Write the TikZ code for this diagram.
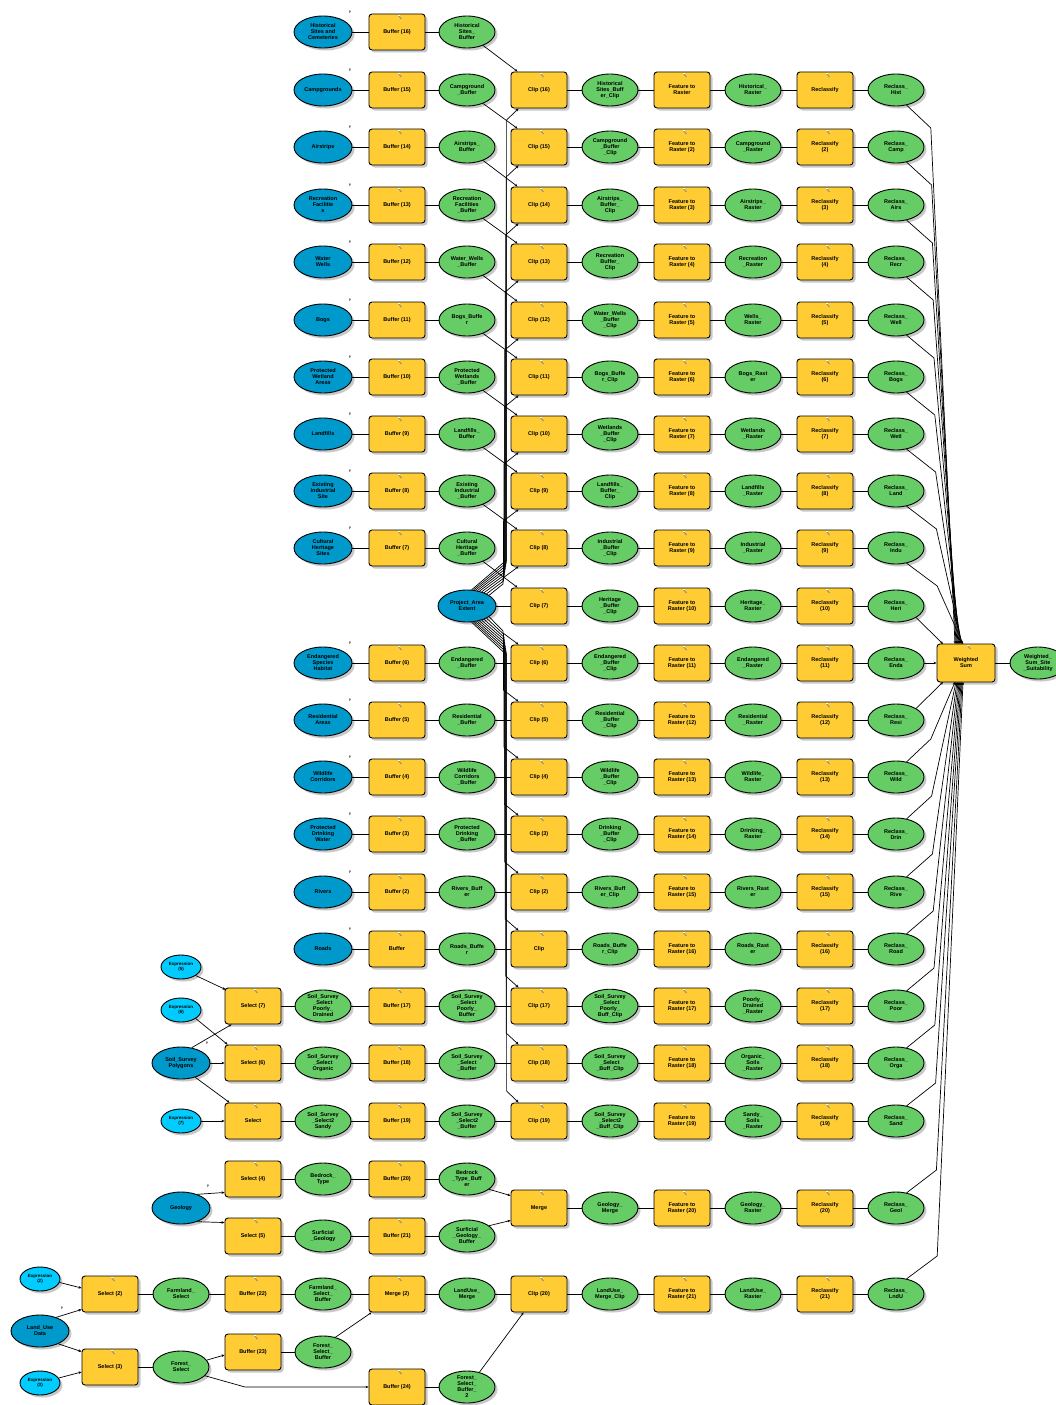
\documentclass[tikz,border=0pt]{standalone}
\usepackage{fontspec}
\setmainfont{Liberation Sans}
\usetikzlibrary{shapes.geometric,shadows,arrows.meta,calc}
\definecolor{inblue}{RGB}{0,153,204}
\definecolor{parblue}{RGB}{0,204,255}
\definecolor{toolyel}{RGB}{255,204,51}
\definecolor{datgreen}{RGB}{102,204,102}
\tikzset{
  base/.style={draw=black, line width=0.9pt, font=\fontsize{5.5}{6}\selectfont\bfseries, align=center, inner sep=0.3pt,
    drop shadow={shadow xshift=2.5pt, shadow yshift=-2.5pt, fill=black!30, opacity=0.7}},
  inp/.style={base, ellipse, fill=inblue, minimum width=58pt, minimum height=32pt},
  par/.style={base, ellipse, fill=parblue, minimum width=40pt, minimum height=24pt, font=\fontsize{4.5}{5}\selectfont\bfseries},
  tool/.style={base, rectangle, rounded corners=3pt, fill=toolyel, minimum width=56pt, minimum height=36pt,
    path picture={\draw[black!45, line width=0.9pt] ([xshift=1pt,yshift=-1pt]path picture bounding box.north) -- ++(3.5pt,-4pt);
                  \draw[white, line width=0.5pt] ([xshift=0.5pt,yshift=-1.5pt]path picture bounding box.north) -- ++(2pt,0);}},
  dat/.style={base, ellipse, fill=datgreen, minimum width=56pt, minimum height=32pt},
  conn/.style={line width=0.7pt},
  arr/.style={conn, -{Stealth[length=3pt,width=2.6pt]}},
  pmark/.style={font=\fontsize{3.5}{4}\selectfont\bfseries, text=black!75, inner sep=0pt},
}
\newcommand\toprow[5]{%
  \node[inp] (b#1) at (323,#2) {#3};
  \node[tool] (u#1) at (397,#2) {#4};
  \node[dat] (g#1) at (467,#2) {#5};
  \node[pmark] at (350,#2-20) {P};
  \draw[conn] (b#1) -- (u#1) -- (g#1);
}
\newcommand\chain[8]{%
  \node[tool] (c#1) at (539,#2) {#3};
  \node[dat] (k#1) at (610,#2) {#4};
  \node[tool] (f#1) at (682,#2) {#5};
  \node[dat] (r#1) at (753,#2) {#6};
  \node[tool] (q#1) at (825,#2) {#7};
  \node[dat] (o#1) at (896,#2) {#8};
  \draw[conn] (c#1) -- (k#1) -- (f#1) -- (r#1) -- (q#1) -- (o#1);
}
\begin{document}
\begin{tikzpicture}[x=1pt,y=-1pt]
\fill[white] (0,0) rectangle (1055,1405);
\useasboundingbox (0,0) rectangle (1055,1405);

% ---------- top input rows ----------
\toprow{0}{32}{Historical\\Sites and\\Cemeteries}{Buffer (16)}{Historical\\Sites\_\\Buffer}
\toprow{1}{90}{Campgrounds}{Buffer (15)}{Campground\\\_Buffer}
\toprow{2}{147}{Airstrips}{Buffer (14)}{Airstrips\_\\Buffer}
\toprow{3}{205}{Recreation\\Facilitie\\s}{Buffer (13)}{Recreation\\Facilities\\\_Buffer}
\toprow{4}{262}{Water\\Wells}{Buffer (12)}{Water\_Wells\\\_Buffer}
\toprow{5}{320}{Bogs}{Buffer (11)}{Bogs\_Buffe\\r}
\toprow{6}{377}{Protected\\Wetland\\Areas}{Buffer (10)}{Protected\\Wetlands\\\_Buffer}
\toprow{7}{434}{Landfills}{Buffer (9)}{Landfills\_\\Buffer}
\toprow{8}{491}{Existing\\Industrial\\Site}{Buffer (8)}{Existing\\Industrial\\\_Buffer}
\toprow{9}{548}{Cultural\\Heritage\\Sites}{Buffer (7)}{Cultural\\Heritage\\\_Buffer}
\toprow{11}{663}{Endangered\\Species\\Habitat}{Buffer (6)}{Endangered\\\_Buffer}
\toprow{12}{720}{Residential\\Areas}{Buffer (5)}{Residential\\\_Buffer}
\toprow{13}{777}{Wildlife\\Corridors}{Buffer (4)}{Wildlife\\Corridors\\\_Buffer}
\toprow{14}{834}{Protected\\Drinking\\Water}{Buffer (3)}{Protected\\Drinking\\\_Buffer}
\toprow{15}{892}{Rivers}{Buffer (2)}{Rivers\_Buff\\er}
\toprow{16}{949}{Roads}{Buffer}{Roads\_Buffe\\r}

% ---------- clip features ----------
\node[inp] (cf) at (467,606) {Project\_Area\\Extent};

% ---------- processing chains ----------
\chain{1}{90}{Clip (16)}{Historical\\Sites\_Buff\\er\_Clip}{Feature to\\Raster}{Historical\_\\Raster}{Reclassify}{Reclass\_\\Hist}
\chain{2}{147}{Clip (15)}{Campground\\\_Buffer\\\_Clip}{Feature to\\Raster (2)}{Campground\\\_Raster}{Reclassify\\(2)}{Reclass\_\\Camp}
\chain{3}{205}{Clip (14)}{Airstrips\_\\Buffer\_\\Clip}{Feature to\\Raster (3)}{Airstrips\_\\Raster}{Reclassify\\(3)}{Reclass\_\\Airs}
\chain{4}{262}{Clip (13)}{Recreation\\Buffer\_\\Clip}{Feature to\\Raster (4)}{Recreation\\\_Raster}{Reclassify\\(4)}{Reclass\_\\Recr}
\chain{5}{320}{Clip (12)}{Water\_Wells\\\_Buffer\\\_Clip}{Feature to\\Raster (5)}{Wells\_\\Raster}{Reclassify\\(5)}{Reclass\_\\Well}
\chain{6}{377}{Clip (11)}{Bogs\_Buffe\\r\_Clip}{Feature to\\Raster (6)}{Bogs\_Rast\\er}{Reclassify\\(6)}{Reclass\_\\Bogs}
\chain{7}{434}{Clip (10)}{Wetlands\\\_Buffer\\\_Clip}{Feature to\\Raster (7)}{Wetlands\\\_Raster}{Reclassify\\(7)}{Reclass\_\\Wetl}
\chain{8}{491}{Clip (9)}{Landfills\_\\Buffer\_\\Clip}{Feature to\\Raster (8)}{Landfills\\\_Raster}{Reclassify\\(8)}{Reclass\_\\Land}
\chain{9}{548}{Clip (8)}{Industrial\\\_Buffer\\\_Clip}{Feature to\\Raster (9)}{Industrial\\\_Raster}{Reclassify\\(9)}{Reclass\_\\Indu}
\chain{10}{606}{Clip (7)}{Heritage\\\_Buffer\\\_Clip}{Feature to\\Raster (10)}{Heritage\_\\Raster}{Reclassify\\(10)}{Reclass\_\\Heri}
\chain{11}{663}{Clip (6)}{Endangered\\\_Buffer\\\_Clip}{Feature to\\Raster (11)}{Endangered\\\_Raster}{Reclassify\\(11)}{Reclass\_\\Enda}
\chain{12}{720}{Clip (5)}{Residential\\\_Buffer\\\_Clip}{Feature to\\Raster (12)}{Residential\\\_Raster}{Reclassify\\(12)}{Reclass\_\\Resi}
\chain{13}{777}{Clip (4)}{Wildlife\\\_Buffer\\\_Clip}{Feature to\\Raster (13)}{Wildlife\_\\Raster}{Reclassify\\(13)}{Reclass\_\\Wild}
\chain{14}{834}{Clip (3)}{Drinking\\\_Buffer\\\_Clip}{Feature to\\Raster (14)}{Drinking\_\\Raster}{Reclassify\\(14)}{Reclass\_\\Drin}
\chain{15}{892}{Clip (2)}{Rivers\_Buff\\er\_Clip}{Feature to\\Raster (15)}{Rivers\_Rast\\er}{Reclassify\\(15)}{Reclass\_\\Rive}
\chain{16}{949}{Clip}{Roads\_Buffe\\r\_Clip}{Feature to\\Raster (16)}{Roads\_Rast\\er}{Reclassify\\(16)}{Reclass\_\\Road}
\chain{17}{1006}{Clip (17)}{Soil\_Survey\\\_Select\\Poorly\_\\Buff\_Clip}{Feature to\\Raster (17)}{Poorly\_\\Drained\\\_Raster}{Reclassify\\(17)}{Reclass\_\\Poor}
\chain{18}{1063}{Clip (18)}{Soil\_Survey\\\_Select\\\_Buff\_Clip}{Feature to\\Raster (18)}{Organic\_\\Soils\\\_Raster}{Reclassify\\(18)}{Reclass\_\\Orga}
\chain{19}{1121}{Clip (19)}{Soil\_Survey\\\_Select2\\\_Buff\_Clip}{Feature to\\Raster (19)}{Sandy\_\\Soils\\\_Raster}{Reclassify\\(19)}{Reclass\_\\Sand}
\chain{20}{1208}{Merge}{Geology\_\\Merge}{Feature to\\Raster (20)}{Geology\_\\Raster}{Reclassify\\(20)}{Reclass\_\\Geol}
\chain{21}{1294}{Clip (20)}{LandUse\_\\Merge\_Clip}{Feature to\\Raster (21)}{LandUse\_\\Raster}{Reclassify\\(21)}{Reclass\_\\LndU}

% ---------- weighted sum ----------
\node[tool, minimum width=58pt, minimum height=38pt] (ws) at (966,663) {Weighted\\Sum};
\node[dat] (wso) at (1038,663) {Weighted\_\\Sum\_Site\\\_Suitability};
\draw[conn] (ws) -- (wso);

% ---------- buffer outputs to clips ----------
\foreach \i in {0,...,9}{
  \pgfmathtruncatemacro\j{\i+1}
  \draw[arr] (g\i.-40) -- ($(c\j.north west)+(7pt,0)$);
}
\foreach \i in {11,...,16}{ \draw[conn] (g\i) -- (c\i); }
\draw[conn] (cf) -- (c10);

% ---------- clip feature fan ----------
\foreach \k/\y in {1/90,2/147,3/205,4/262,5/320,6/377,7/434,8/491,9/548}{
  \pgfmathtruncatemacro\ang{80-6*\k}
  \pgfmathsetmacro\bx{503+0.45*(9-\k)}
  \pgfmathsetmacro\jy{584-3*(9-\k)}
  \pgfmathsetmacro\vy{\y+30}
  \draw[arr] (cf.\ang) -- (\bx,\jy) -- (\bx,\vy) -- ($(c\k.south west)+(8pt,0)$);
}
\foreach \k/\y in {11/663,12/720,13/777,14/834,15/892,16/949,17/1006,18/1063,19/1121}{
  \pgfmathtruncatemacro\j{\k-10}
  \pgfmathtruncatemacro\ang{-(20+6*\j)}
  \pgfmathsetmacro\bx{503+0.45*(\j-1)}
  \pgfmathsetmacro\jy{628+3*\j}
  \pgfmathsetmacro\vy{\y-30}
  \draw[arr] (cf.\ang) -- (\bx,\jy) -- (\bx,\vy) -- ($(c\k.north west)+(8pt,0)$);
}

% ---------- reclass outputs to weighted sum ----------
\foreach \k/\y in {1/90,2/147,3/205,4/262,5/320,6/377,7/434,8/491,9/548}{
  \pgfmathsetmacro\mx{930+0.8*\k}
  \pgfmathsetmacro\my{\y+38}
  \pgfmathsetmacro\ex{954+1.0*\k}
  \draw[arr] (o\k.-55) -- (\mx,\my) -- (\ex,644);
}
\draw[arr] (o10.-30) -- (943,644);
\draw[arr] (o11) -- (ws);
\draw[arr] (o12.30) -- (943,682);
\foreach \k/\y in {13/777,14/834,15/892,16/949,17/1006,18/1063,19/1121,20/1208,21/1294}{
  \pgfmathsetmacro\mx{930+0.8*(\k-12)}
  \pgfmathsetmacro\my{\y-38}
  \pgfmathsetmacro\ex{954+1.0*(\k-12)}
  \draw[arr] (o\k.55) -- (\mx,\my) -- (\ex,682);
}

% ---------- soil selections ----------
\node[par] (p1) at (181,967) {Expression\\(5)};
\node[par] (p2) at (181,1010) {Expression\\(6)};
\node[inp] (sb) at (181,1063) {Soil\_Survey\\Polygons};
\node[pmark] at (207,1043) {P};
\node[par] (p3) at (181,1121) {Expression\\(7)};
\node[tool] (s17) at (253,1006) {Select (7)};
\node[tool] (s18) at (253,1063) {Select (6)};
\node[tool] (s19) at (253,1121) {Select};
\node[dat] (e17) at (323,1006) {Soil\_Survey\\\_Select\\Poorly\_\\Drained};
\node[dat] (e18) at (323,1063) {Soil\_Survey\\\_Select\\Organic};
\node[dat] (e19) at (323,1121) {Soil\_Survey\\\_Select2\\Sandy};
\node[tool] (u17) at (397,1006) {Buffer (17)};
\node[tool] (u18) at (397,1063) {Buffer (18)};
\node[tool] (u19) at (397,1121) {Buffer (19)};
\node[dat] (g17) at (467,1006) {Soil\_Survey\\\_Select\\Poorly\_\\Buffer};
\node[dat] (g18) at (467,1063) {Soil\_Survey\\\_Select\\\_Buffer};
\node[dat] (g19) at (467,1121) {Soil\_Survey\\\_Select2\\\_Buffer};
\foreach \i in {17,18,19}{ \draw[conn] (s\i) -- (e\i) -- (u\i) -- (g\i) -- (c\i); }
\draw[arr] (p1.-30) -- ($(s17.north west)+(1pt,-2pt)$);
\draw[arr] (sb.55) -- ($(s17.south west)+(7pt,0)$);
\draw[arr] (p2.-30) -- ($(s18.north west)+(3pt,0)$);
\draw[arr] (sb) -- (s18);
\draw[arr] (sb.-45) -- ($(s19.north west)+(5pt,0)$);
\draw[arr] (p3) -- (s19);

% ---------- geology ----------
\node[inp] (gb) at (181,1208) {Geology};
\node[pmark] at (208,1186) {P};
\node[tool] (s20) at (253,1179) {Select (4)};
\node[tool] (s21) at (253,1236) {Select (5)};
\node[dat] (e20) at (323,1179) {Bedrock\_\\Type};
\node[dat] (e21) at (323,1236) {Surficial\\\_Geology};
\node[tool] (u20) at (397,1179) {Buffer (20)};
\node[tool] (u21) at (397,1236) {Buffer (21)};
\node[dat] (g20) at (467,1179) {Bedrock\\\_Type\_Buff\\er};
\node[dat] (g21) at (467,1236) {Surficial\\\_Geology\_\\Buffer};
\foreach \i in {20,21}{ \draw[conn] (s\i) -- (e\i) -- (u\i) -- (g\i); }
\draw[arr] (gb.40) -- ($(s20.south west)+(0,5pt)$);
\draw[arr] (gb.-40) -- ($(s21.north west)+(0,-5pt)$);
\draw[arr] (g20.-25) -- ($(c20.north west)+(0,-6pt)$);
\draw[arr] (g21.25) -- ($(c20.south west)+(0,6pt)$);

% ---------- land use ----------
\node[par] (lp4) at (40,1279) {Expression\\(2)};
\node[inp] (bb) at (40,1331) {Land\_Use\\Data};
\node[pmark] at (62,1308) {P};
\node[par] (lp5) at (40,1383) {Expression\\(3)};
\node[tool] (bs1) at (110,1294) {Select (2)};
\node[tool] (bs2) at (110,1367) {Select (3)};
\node[dat] (be1) at (181,1294) {Farmland\_\\Select};
\node[dat] (be2) at (181,1367) {Forest\_\\Select};
\node[tool] (bu1) at (253,1294) {Buffer (22)};
\node[tool] (bu2) at (253,1352) {Buffer (23)};
\node[dat] (bg1) at (323,1294) {Farmland\_\\Select\_\\Buffer};
\node[dat] (bg2) at (323,1352) {Forest\_\\Select\_\\Buffer};
\node[tool] (bm) at (397,1294) {Merge (2)};
\node[dat] (bmg) at (467,1294) {LandUse\_\\Merge};
\node[tool] (bu3) at (397,1387) {Buffer (24)};
\node[dat] (bg3) at (467,1387) {Forest\_\\Select\_\\Buffer\_\\2};
\draw[arr] (lp4.-10) -- ($(bs1.west)+(0,6pt)$);
\draw[arr] (bb.40) -- ($(bs1.south west)+(0,3pt)$);
\draw[arr] (bb.-35) -- ($(bs2.north west)+(0,-3pt)$);
\draw[arr] (lp5.15) -- ($(bs2.west)+(0,-5pt)$);
\draw[conn] (bs1) -- (be1) -- (bu1) -- (bg1) -- (bm) -- (bmg) -- (c21);
\draw[conn] (bs2) -- (be2);
\draw[arr] (be2.15) -- ($(bu2.west)+(0,-3pt)$);
\draw[conn] (bu2) -- (bg2);
\draw[arr] (bg2.50) -- ($(bm.south west)+(3pt,0)$);
\draw[arr] (be2.-20) -- (245,1387) -- (bu3.west);
\draw[conn] (bu3) -- (bg3);
\draw[arr] (bg3.50) -- ($(c21.south west)+(13pt,0)$);
\end{tikzpicture}
\end{document}
